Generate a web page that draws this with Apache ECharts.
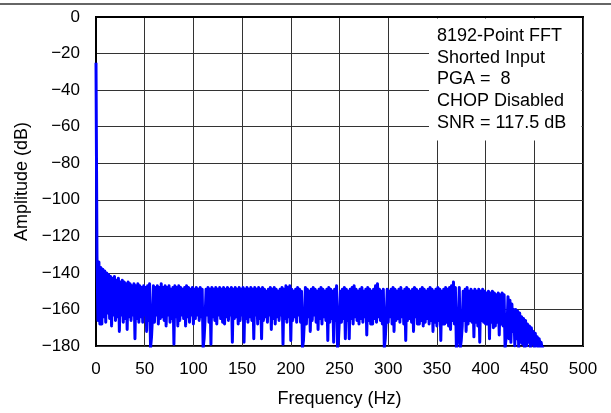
<!DOCTYPE html>
<html><head><meta charset="utf-8">
<script src="https://cdn.jsdelivr.net/npm/echarts@6/dist/echarts.min.js"></script>
<style>html,body{margin:0;padding:0;background:#fff}#c{width:611px;height:413px}</style>
</head><body><div id="c"></div>
<script>
// FFT bin spacing used for this reading of the plot (Hz per value)
const binStepHz = 1;
// Amplitude (dB), one value per bin starting at 0 Hz
const amplitudeDb = [
 -25,-131,-166,-134,-168,-137,-168,-138,-164,-139,
 -167,-140,-162,-141,-165,-142,-169,-143,-163,-142,
 -166,-144,-164,-143,-172,-145,-163,-144,-167,-145,
 -165,-146,-171,-145,-164,-146,-166,-147,-163,-146,
 -176,-147,-165,-146,-167,-147,-164,-148,-167,-147,
 -163,-148,-172,-147,-166,-146,-181,-175,-164,-147,
 -167,-148,-163,-147,-168,-148,-165,-146,-164,-148,
 -166,-147,-169,-148,-163,-147,-167,-149,-165,-148,
 -179,-147,-164,-148,-169,-147,-166,-148,-163,-149,
 -165,-148,-169,-147,-164,-148,-167,-149,-163,-148,
 -168,-149,-165,-148,-163,-149,-166,-148,-164,-149,
 -181,-176,-165,-149,-163,-148,-167,-149,-179,-148,
 -164,-149,-166,-148,-168,-149,-163,-148,-165,-149,
 -167,-148,-168,-149,-164,-148,-166,-149,-163,-148,
 -178,-149,-165,-148,-164,-149,-168,-148,-166,-149,
 -163,-148,-178,-149,-165,-148,-167,-149,-164,-148,
 -166,-149,-176,-148,-163,-149,-168,-148,-165,-149,
 -176,-148,-166,-149,-164,-150,-167,-149,-163,-148,
 -171,-149,-165,-148,-168,-149,-164,-150,-166,-149,
 -163,-148,-179,-149,-165,-147,-167,-148,-164,-147,
 -177,-149,-166,-150,-164,-149,-167,-148,-163,-149,
 -167,-150,-181,-177,-165,-148,-168,-149,-164,-150,
 -172,-149,-166,-148,-163,-149,-167,-150,-171,-149,
 -165,-148,-168,-149,-164,-150,-166,-149,-177,-148,
 -167,-149,-165,-150,-178,-149,-166,-147,-181,-176,
 -164,-150,-167,-149,-165,-148,-176,-149,-166,-150,
 -176,-149,-165,-148,-168,-147,-164,-149,-166,-150,
 -168,-149,-165,-148,-167,-150,-164,-149,-174,-148,
 -166,-149,-168,-150,-168,-149,-165,-147,-167,-146,
 -164,-149,-166,-150,-168,-149,-181,-176,-165,-149,
 -167,-150,-164,-149,-168,-148,-172,-149,-166,-150,
 -165,-149,-167,-148,-164,-150,-168,-149,-177,-148,
 -166,-149,-165,-150,-167,-149,-172,-148,-164,-149,
 -168,-150,-168,-149,-166,-148,-169,-149,-167,-150,
 -165,-149,-168,-148,-166,-149,-172,-150,-167,-149,
 -169,-148,-166,-149,-177,-150,-168,-149,-168,-148,
 -167,-149,-169,-148,-171,-147,-166,-145,-168,-148,
 -181,-178,-167,-148,-181,-177,-169,-150,-166,-149,
 -172,-148,-168,-150,-166,-149,-167,-150,-175,-149,
 -167,-150,-169,-149,-178,-150,-166,-149,-167,-150,
 -168,-151,-168,-150,-176,-151,-167,-150,-170,-151,
 -169,-152,-167,-151,-174,-152,-168,-151,-169,-152,
 -181,-176,-170,-153,-176,-155,-178,-157,-172,-160,
 -180,-160,-176,-161,-181,-162,-178,-164,-179,-165,
 -181,-166,-180,-168,-178,-169,-181,-170,-179,-172,
 -181,-173,-180,-175,-181,-176,-181,-178,-181,-180,
 -181
];
const annotationLines = ['8192-Point FFT', 'Shorted Input', 'PGA =  8', 'CHOP Disabled', 'SNR = 117.5 dB'];
const xAxisTitle = 'Frequency (Hz)';
const yAxisTitle = 'Amplitude (dB)';

const seriesData = amplitudeDb.map((v, i) => [i * binStepHz, v]);
const FONT = 'Liberation Sans, Arial, Helvetica, sans-serif';

const chart = echarts.init(document.getElementById('c'), null, {renderer: 'canvas'});
chart.setOption({
  animation: false,
  backgroundColor: '#fff',
  grid: {left: 96, right: 28, top: 17, bottom: 63, show: true, borderColor: '#000', borderWidth: 2, backgroundColor: 'transparent'},
  xAxis: {
    type: 'value', min: 0, max: 500, interval: 50,
    name: xAxisTitle, nameLocation: 'middle', nameGap: 44,
    nameTextStyle: {fontFamily: FONT, fontSize: 18, color: '#000'},
    axisLine: {show: true, lineStyle: {color: '#000', width: 2}},
    axisTick: {show: false},
    axisLabel: {fontFamily: FONT, fontSize: 17, color: '#000', margin: 15},
    splitLine: {show: true, lineStyle: {color: '#333', width: 1}}
  },
  yAxis: {
    type: 'value', min: -180, max: 0, interval: 20,
    name: yAxisTitle, nameLocation: 'middle', nameGap: 65, nameRotate: 90,
    nameTextStyle: {fontFamily: FONT, fontSize: 18, color: '#000'},
    axisLine: {show: true, onZero: false, lineStyle: {color: '#000', width: 2}},
    axisTick: {show: false},
    axisLabel: {fontFamily: FONT, fontSize: 17, color: '#000', margin: 16,
      formatter: v => String(v).replace('-', '\u2212')},
    splitLine: {show: true, lineStyle: {color: '#333', width: 1}}
  },
  series: [{
    type: 'line', data: seriesData, showSymbol: false, symbol: 'none',
    sampling: null, clip: true, z: 3,
    lineStyle: {color: '#0000ff', width: 3, join: 'round'}
  }],
  graphic: [
    {type: 'line', z: 10, shape: {x1: 0, y1: 4, x2: 611, y2: 4}, style: {stroke: '#333', lineWidth: 1.5}},
    {type: 'rect', z: 10, shape: {x: 429, y: 18.5, width: 152.5, height: 122}, style: {fill: '#fff'}},
    {type: 'text', z: 11, x: 437, y: 25,
      style: {text: annotationLines.join('\n'), font: '18px ' + FONT, fill: '#000', lineHeight: 21.7, textVerticalAlign: 'top'}}
  ]
});
</script></body></html>
